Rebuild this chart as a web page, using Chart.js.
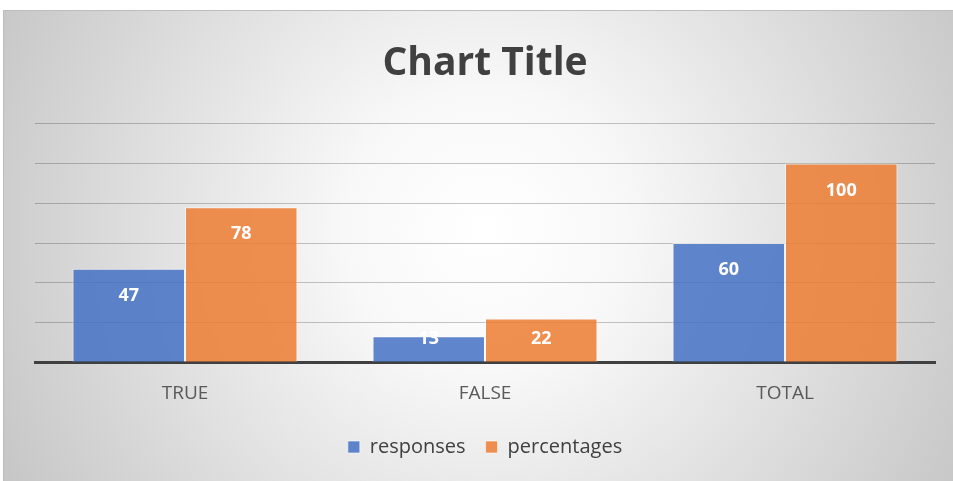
<!DOCTYPE html>
<html>
<head>
<meta charset="utf-8">
<script src="https://cdn.jsdelivr.net/npm/chart.js@4.4.0/dist/chart.umd.min.js"></script>
<style>
    html, body { margin: 0; padding: 0; background: #fff; }
    #wrap { width: 953px; height: 481px; }
</style>
</head>
<body>
<div id="wrap"><canvas id="chart"></canvas></div>
<script>
const categories = ['TRUE', 'FALSE', 'TOTAL'];
const responses = [47, 13, 60];
const percentages = [78, 22, 100];
const yTicks = [0, 20, 40, 60, 80, 100, 120];

const FONT = '"Open Sans", "Noto Sans", sans-serif';

// gray radial background framed like an Excel chart area
const background = {
    id: 'background',
    beforeDraw(chart) {
        const ctx = chart.ctx;
        const w = chart.width, h = chart.height;
        ctx.save();
        ctx.fillStyle = '#ffffff';
        ctx.fillRect(0, 0, w, h);
        const g = ctx.createRadialGradient(485, 230, 0, 485, 230, 560);
        g.addColorStop(0, '#ffffff');
        g.addColorStop(0.25, '#f8f8f8');
        g.addColorStop(1, '#c4c4c4');
        ctx.fillStyle = g;
        ctx.fillRect(3, 10, w - 3, h - 10);
        ctx.strokeStyle = '#bdbdbd';
        ctx.lineWidth = 1;
        ctx.beginPath();
        ctx.moveTo(3.5, h);
        ctx.lineTo(3.5, 10.5);
        ctx.lineTo(w, 10.5);
        ctx.stroke();
        ctx.restore();
    }
};

// white value labels just inside the top of each bar
const valueLabels = {
    id: 'valueLabels',
    afterDatasetsDraw(chart) {
        const ctx = chart.ctx;
        const base = chart.scales.y.getPixelForValue(0);
        ctx.save();
        ctx.fillStyle = '#ffffff';
        ctx.font = 'bold 18px ' + FONT;
        ctx.textAlign = 'center';
        ctx.textBaseline = 'middle';
        chart.data.datasets.forEach((ds, i) => {
            chart.getDatasetMeta(i).data.forEach((bar, j) => {
                const y = Math.min(bar.y + 27, base - 23);
                ctx.fillText(String(ds.data[j]), bar.x, y);
            });
        });
        ctx.restore();
    }
};

new Chart(document.getElementById('chart'), {
    type: 'bar',
    data: {
        labels: categories,
        datasets: [
            {
                label: 'responses',
                data: responses,
                backgroundColor: 'rgba(68, 114, 196, 0.85)',
                borderColor: 'rgba(255, 255, 255, 0.6)',
                borderWidth: 1,
                borderSkipped: 'bottom',
            },
            {
                label: 'percentages',
                data: percentages,
                backgroundColor: 'rgba(237, 125, 49, 0.85)',
                borderColor: 'rgba(255, 255, 255, 0.6)',
                borderWidth: 1,
                borderSkipped: 'bottom',
            },
        ],
    },
    options: {
        responsive: true,
        maintainAspectRatio: false,
        animation: false,
        layout: { padding: { left: 35, right: 18, top: 0, bottom: 14 } },
        datasets: { bar: { categoryPercentage: 0.75, barPercentage: 1.0 } },
        plugins: {
            title: {
                display: true,
                text: 'Chart Title',
                color: '#404040',
                font: { family: FONT, size: 39, weight: 'bold' },
                padding: { top: 40, bottom: 37 },
            },
            legend: {
                position: 'bottom',
                labels: {
                    color: '#404040',
                    font: { family: FONT, size: 20 },
                    boxWidth: 12,
                    boxHeight: 12,
                    padding: 20,
                },
            },
            tooltip: { enabled: false },
        },
        scales: {
            x: {
                grid: { display: false },
                border: { color: '#404040', width: 3 },
                ticks: { color: '#595959', font: { family: FONT, size: 19 }, padding: 12 },
            },
            y: {
                min: yTicks[0],
                max: yTicks[yTicks.length - 1],
                afterBuildTicks(axis) {
                    axis.ticks = yTicks.map((v) => ({ value: v }));
                },
                ticks: { display: false },
                grid: { color: 'rgba(0, 0, 0, 0.22)', lineWidth: 1, drawTicks: false },
                border: { display: false },
            },
        },
    },
    plugins: [background, valueLabels],
});
</script>
</body>
</html>
